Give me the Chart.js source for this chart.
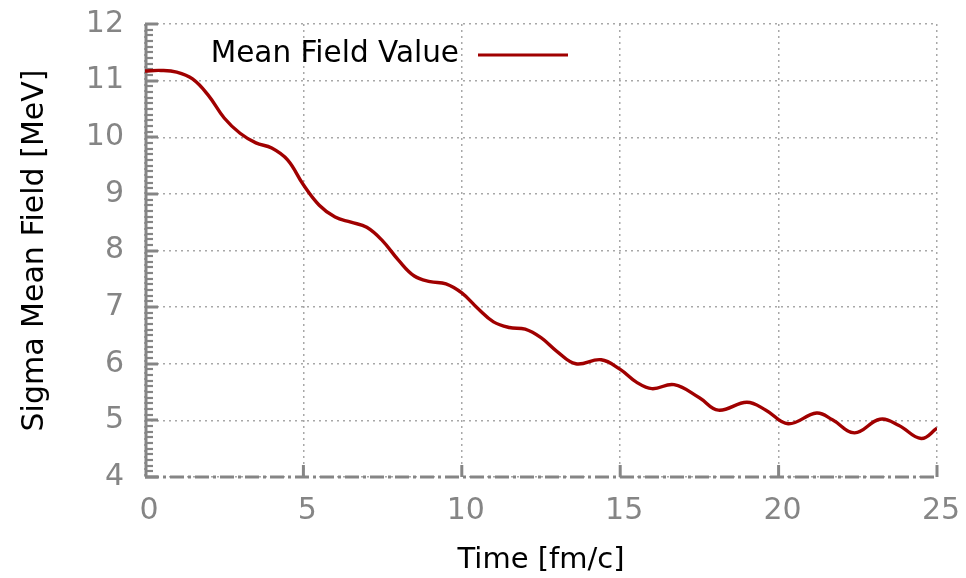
<!DOCTYPE html>
<html lang="en">
<head>
<meta charset="UTF-8">
<title>Sigma Mean Field</title>
<script src="https://cdn.jsdelivr.net/npm/chart.js"></script>
<style>
  body { margin: 0; background: #ffffff; }
  .chart-box { width: 966px; height: 578px; }
</style>
</head>
<body>
<div class="chart-box"><canvas id="fieldChart"></canvas></div>
<script>
// time in fm/c and sigma mean field in MeV
const timeValues = [0, 0.5, 1.0, 1.5, 2.0, 2.5, 3.0, 3.5, 4.0, 4.5, 5.0, 5.5, 6.0, 6.5, 7.0, 7.5, 8.0, 8.5, 9.0, 9.5,
  10.0, 10.5, 11.0, 11.5, 12.0, 12.5, 13.0, 13.6, 14.4, 15.0, 15.5, 16.0, 16.7, 17.5, 18.1, 19.0, 19.6,
  20.3, 21.2, 21.7, 22.4, 23.2, 23.8, 24.5, 25.0];
const fieldValues = [11.17, 11.18, 11.15, 11.03, 10.74, 10.34, 10.07, 9.90, 9.81, 9.60, 9.16, 8.80, 8.59, 8.50, 8.41, 8.17, 7.83, 7.55, 7.45, 7.41,
  7.25, 6.98, 6.74, 6.64, 6.61, 6.46, 6.22, 6.00, 6.07, 5.90, 5.68, 5.56, 5.63, 5.40, 5.18, 5.32, 5.18,
  4.94, 5.13, 5.01, 4.78, 5.02, 4.91, 4.68, 4.86];
const seriesLabel = 'Mean Field Value';
const xRange = [0, 25];
const yRange = [4, 12];
const xStep = 5;
const yStep = 1;
const yMinorStep = 0.1;

const FONT = '"DejaVu Sans", sans-serif';
const AXIS_GREY = '#858585';

// gnuplot-like frame: solid left axis with inward ticks, dash-dot bottom axis
const axesFrame = {
  id: 'axesFrame',
  beforeDatasetsDraw(chart) {
    const { ctx, chartArea: a, scales: { x, y } } = chart;
    ctx.save();
    ctx.strokeStyle = AXIS_GREY;

    ctx.lineWidth = 3;
    ctx.beginPath();
    ctx.moveTo(a.left + 1, a.top);
    ctx.lineTo(a.left + 1, a.bottom);
    ctx.stroke();

    const nMinor = Math.round((yRange[1] - yRange[0]) / yMinorStep);
    for (let i = 0; i <= nMinor; i++) {
      const v = yRange[0] + i * yMinorStep;
      const py = Math.round(y.getPixelForValue(v));
      const major = i % Math.round(yStep / yMinorStep) === 0;
      ctx.lineWidth = major ? 3 : 2.2;
      ctx.beginPath();
      ctx.moveTo(a.left, py);
      ctx.lineTo(a.left + (major ? 13 : 8), py);
      ctx.stroke();
    }

    ctx.lineWidth = 3;
    ctx.setLineDash([14, 4, 3, 4]);
    ctx.beginPath();
    ctx.moveTo(a.left, a.bottom);
    ctx.lineTo(a.right, a.bottom);
    ctx.stroke();
    ctx.setLineDash([]);

    for (let v = xRange[0] + xStep; v <= xRange[1]; v += xStep) {
      const px = x.getPixelForValue(v);
      ctx.beginPath();
      ctx.moveTo(px, a.bottom);
      ctx.lineTo(px, a.bottom - 12);
      ctx.stroke();
    }
    ctx.restore();
  }
};

// key in the top-left corner: text first, line sample after it
const insideLegend = {
  id: 'insideLegend',
  afterDatasetsDraw(chart) {
    const { ctx, chartArea: a } = chart;
    const ds = chart.data.datasets[0];
    ctx.save();
    ctx.font = '29.5px ' + FONT;
    ctx.fillStyle = '#000000';
    ctx.textAlign = 'right';
    ctx.textBaseline = 'middle';
    ctx.fillText(ds.label, a.left + 314, a.top + 30);
    ctx.strokeStyle = ds.borderColor;
    ctx.lineWidth = 3;
    ctx.beginPath();
    ctx.moveTo(a.left + 333, a.top + 31);
    ctx.lineTo(a.left + 423, a.top + 31);
    ctx.stroke();
    ctx.restore();
  }
};

const points = timeValues.map((t, i) => ({ x: t, y: fieldValues[i] }));

// outward tick marks stay invisible; their length only spaces the labels
const gridOpts = tickLen => ({
  color: '#a8a8a8',
  lineWidth: 1.5,
  drawTicks: true,
  tickLength: tickLen,
  tickColor: 'rgba(0,0,0,0)'
});

new Chart(document.getElementById('fieldChart'), {
  type: 'line',
  data: {
    datasets: [{
      label: seriesLabel,
      data: points,
      borderColor: '#a00000',
      borderWidth: 3.4,
      pointRadius: 0,
      fill: false,
      tension: 0.4
    }]
  },
  options: {
    responsive: true,
    maintainAspectRatio: false,
    devicePixelRatio: 1,
    animation: false,
    layout: { padding: { top: 24, right: 29, bottom: 0, left: 0 } },
    plugins: {
      legend: { display: false },
      tooltip: { enabled: false }
    },
    scales: {
      x: {
        type: 'linear',
        min: xRange[0],
        max: xRange[1],
        afterFit: s => { s.height = 101; },
        grid: gridOpts(13),
        border: { display: false, dash: [2, 4] },
        ticks: {
          stepSize: xStep,
          color: AXIS_GREY,
          font: { family: FONT, size: 30 },
          padding: 3,
          labelOffset: 4,
          maxRotation: 0
        },
        title: {
          display: true,
          text: 'Time [fm/c]',
          color: '#000000',
          font: { family: FONT, size: 29 },
          padding: { top: 0, bottom: 0 }
        }
      },
      y: {
        min: yRange[0],
        max: yRange[1],
        afterFit: s => { s.width = 145; },
        grid: gridOpts(18),
        border: { display: false, dash: [2, 4] },
        ticks: {
          stepSize: yStep,
          color: AXIS_GREY,
          font: { family: FONT, size: 30 },
          padding: 3
        },
        title: {
          display: true,
          text: 'Sigma Mean Field [MeV]',
          color: '#000000',
          font: { family: FONT, size: 30 },
          padding: { top: 17, bottom: 0 }
        }
      }
    }
  },
  plugins: [axesFrame, insideLegend]
});
</script>
</body>
</html>
